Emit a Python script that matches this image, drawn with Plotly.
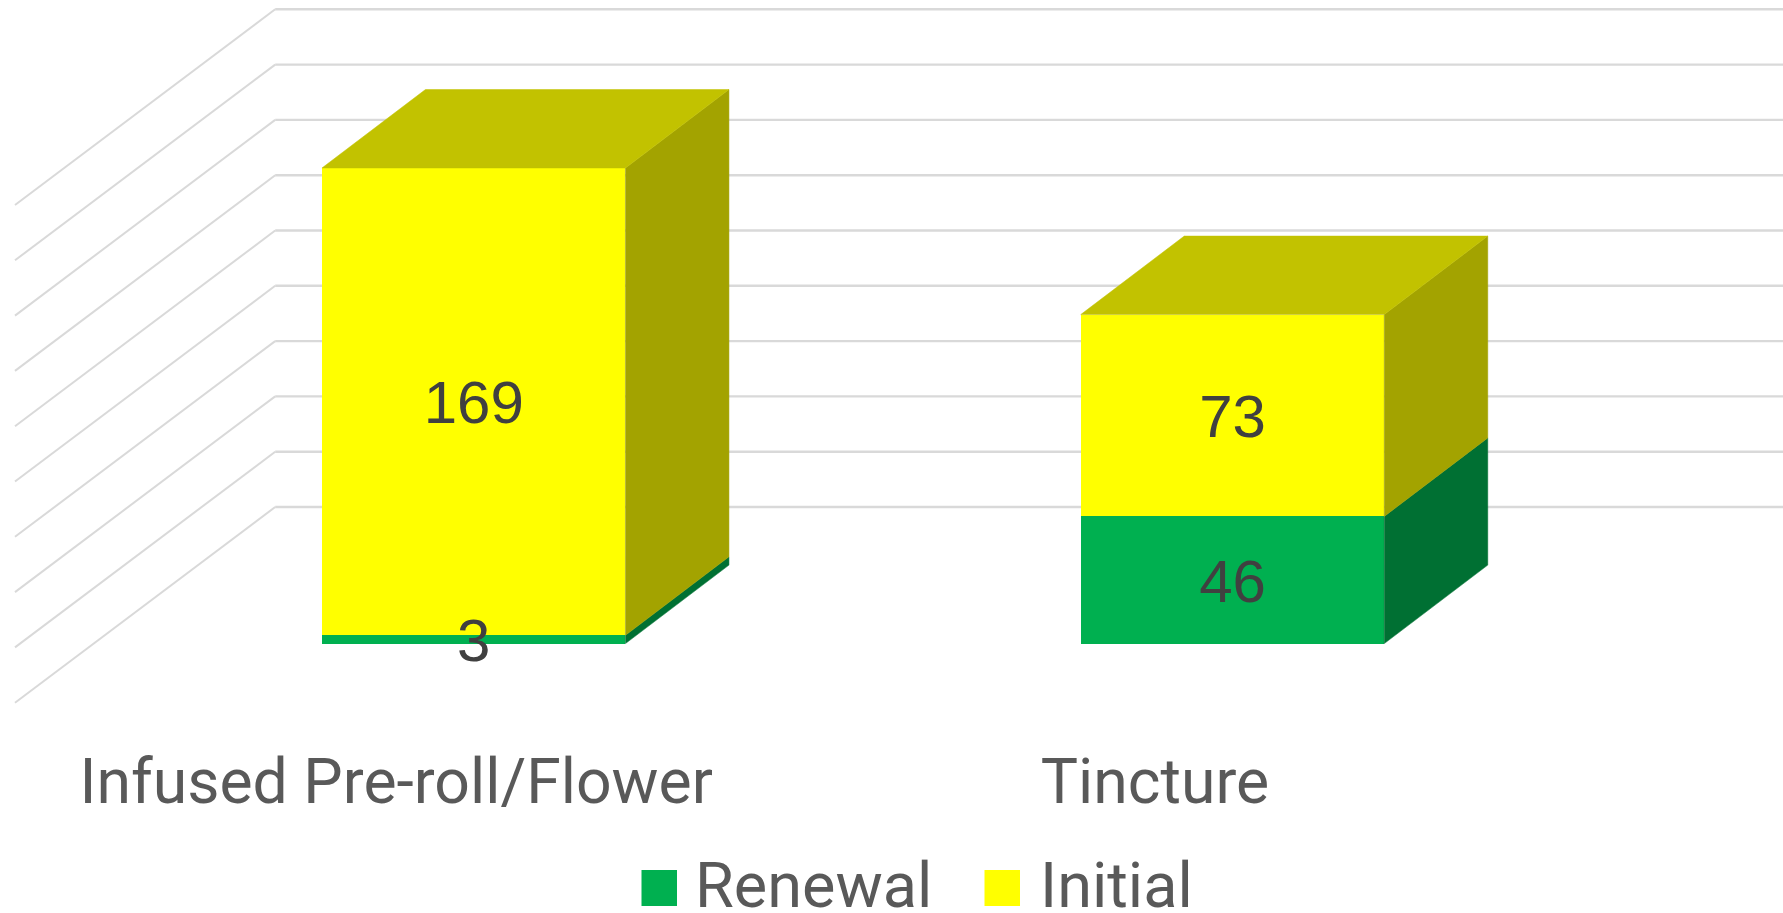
import plotly.graph_objects as go

categories = ["Infused Pre-roll/Flower", "Tincture"]
renewal = [3, 46]
initial = [169, 73]
grid_values = [0, 20, 40, 60, 80, 100, 120, 140, 160, 180]

W, H = 1783, 913
PLOT_BOTTOM_PX = 739
PX_PER_CAT = 758.8
PX_PER_UNIT = 2.765
X0_PX = 473.7
BASE_PX = 643.6

x_range = [-X0_PX / PX_PER_CAT, (W - X0_PX) / PX_PER_CAT]
y_range = [-(PLOT_BOTTOM_PX - BASE_PX) / PX_PER_UNIT, BASE_PX / PX_PER_UNIT]

BAR_W = 0.40
DX = 103.5 / PX_PER_CAT   # depth offset of a bar, in category units
DY = 78.5 / PX_PER_UNIT   # depth offset of a bar, in value units
WALL_X = (275.2 - X0_PX) / PX_PER_CAT
WALL_DY = (BASE_PX - 507.0) / PX_PER_UNIT
FLOOR_X = (15.0 - X0_PX) / PX_PER_CAT
FLOOR_DY = (BASE_PX - 702.7) / PX_PER_UNIT
LABEL_SHIFT = -77.5 / PX_PER_CAT
LABEL_NUDGE = -6.5 / PX_PER_UNIT   # optical centring of the data labels

GRID = "#D9D9D9"
GREEN, GREEN_SIDE = "#00B050", "#007033"
YELLOW, YELLOW_SIDE, YELLOW_TOP = "#FFFF00", "#A3A300", "#C2C200"
LABEL = "#404040"
TEXT = "#595959"
FONT = "Roboto"

fig = go.Figure()
xs = list(range(len(categories)))

shapes = []
for g in grid_values:
    yb = g + WALL_DY
    yf = g + FLOOR_DY
    shapes.append(dict(type="line", layer="below", xref="x", yref="y",
                       x0=FLOOR_X, y0=yf, x1=WALL_X, y1=yb,
                       line=dict(color=GRID, width=2)))
    shapes.append(dict(type="line", layer="below", xref="x", yref="y",
                       x0=WALL_X, y0=yb, x1=x_range[1], y1=yb,
                       line=dict(color=GRID, width=2.4)))


def poly(px, py, color):
    fig.add_trace(go.Scatter(x=px, y=py, mode="lines", fill="toself", fillcolor=color,
                             line=dict(color=color, width=0.5), showlegend=False,
                             hoverinfo="skip"))


for series, colour, name in ((renewal, GREEN, "Renewal"), (initial, YELLOW, "Initial")):
    fig.add_trace(go.Bar(x=xs, y=series, name=name, width=BAR_W,
                         marker=dict(color=colour, line_width=0), showlegend=False))

for i in xs:
    right = i + BAR_W / 2
    left = i - BAR_W / 2
    mid = renewal[i]
    top = renewal[i] + initial[i]
    poly([right, right + DX, right + DX, right, right], [0, DY, mid + DY, mid, 0], GREEN_SIDE)
    poly([right, right + DX, right + DX, right, right], [mid, mid + DY, top + DY, top, mid], YELLOW_SIDE)
    poly([left, right, right + DX, left + DX, left], [top, top, top + DY, top + DY, top], YELLOW_TOP)

# data labels sit above every face, centred on their stack segment
label_x, label_y, label_text = [], [], []
for i in xs:
    label_x += [i, i]
    label_y += [renewal[i] / 2 + LABEL_NUDGE, renewal[i] + initial[i] / 2 + LABEL_NUDGE]
    label_text += [str(renewal[i]), str(initial[i])]
fig.add_trace(go.Scatter(x=label_x, y=label_y, text=label_text, mode="text",
                         textposition="middle center", cliponaxis=False,
                         textfont=dict(family="Liberation Sans", size=60, color=LABEL),
                         showlegend=False, hoverinfo="skip"))

# legend keys and labels
legend_items = [("Renewal", GREEN, 641.5, 692.5), ("Initial", YELLOW, 984.5, 1038)]
annotations = []
for name, colour, key_x, txt_x in legend_items:
    shapes.append(dict(type="rect", xref="paper", yref="paper",
                       x0=key_x / W, x1=(key_x + 35.5) / W,
                       y0=1 - 906 / H, y1=1 - 870 / H,
                       fillcolor=colour, line_width=0))
    annotations.append(dict(text=name, xref="paper", yref="paper", x=txt_x / W, y=1 - 885 / H,
                            xanchor="left", yanchor="middle", showarrow=False,
                            font=dict(family=FONT, size=63, color=TEXT)))

fig.update_layout(
    width=W, height=H, autosize=False,
    margin=dict(l=0, r=0, t=0, b=0, pad=0),
    paper_bgcolor="white", plot_bgcolor="white",
    barmode="stack", showlegend=False,
    shapes=shapes, annotations=annotations,
    xaxis=dict(range=x_range, domain=[0, 1], anchor="y", automargin=False,
               tickmode="array", tickvals=[i + LABEL_SHIFT for i in xs], ticktext=categories,
               showgrid=False, zeroline=False, showline=False, ticks="",
               tickfont=dict(family=FONT, size=62.5, color=TEXT)),
    yaxis=dict(range=y_range, domain=[1 - PLOT_BOTTOM_PX / H, 1], visible=False),
)

fig.write_html("out.html", config=dict(displayModeBar=False),
               post_script="document.body.style.margin='0';document.body.style.overflow='hidden';")
